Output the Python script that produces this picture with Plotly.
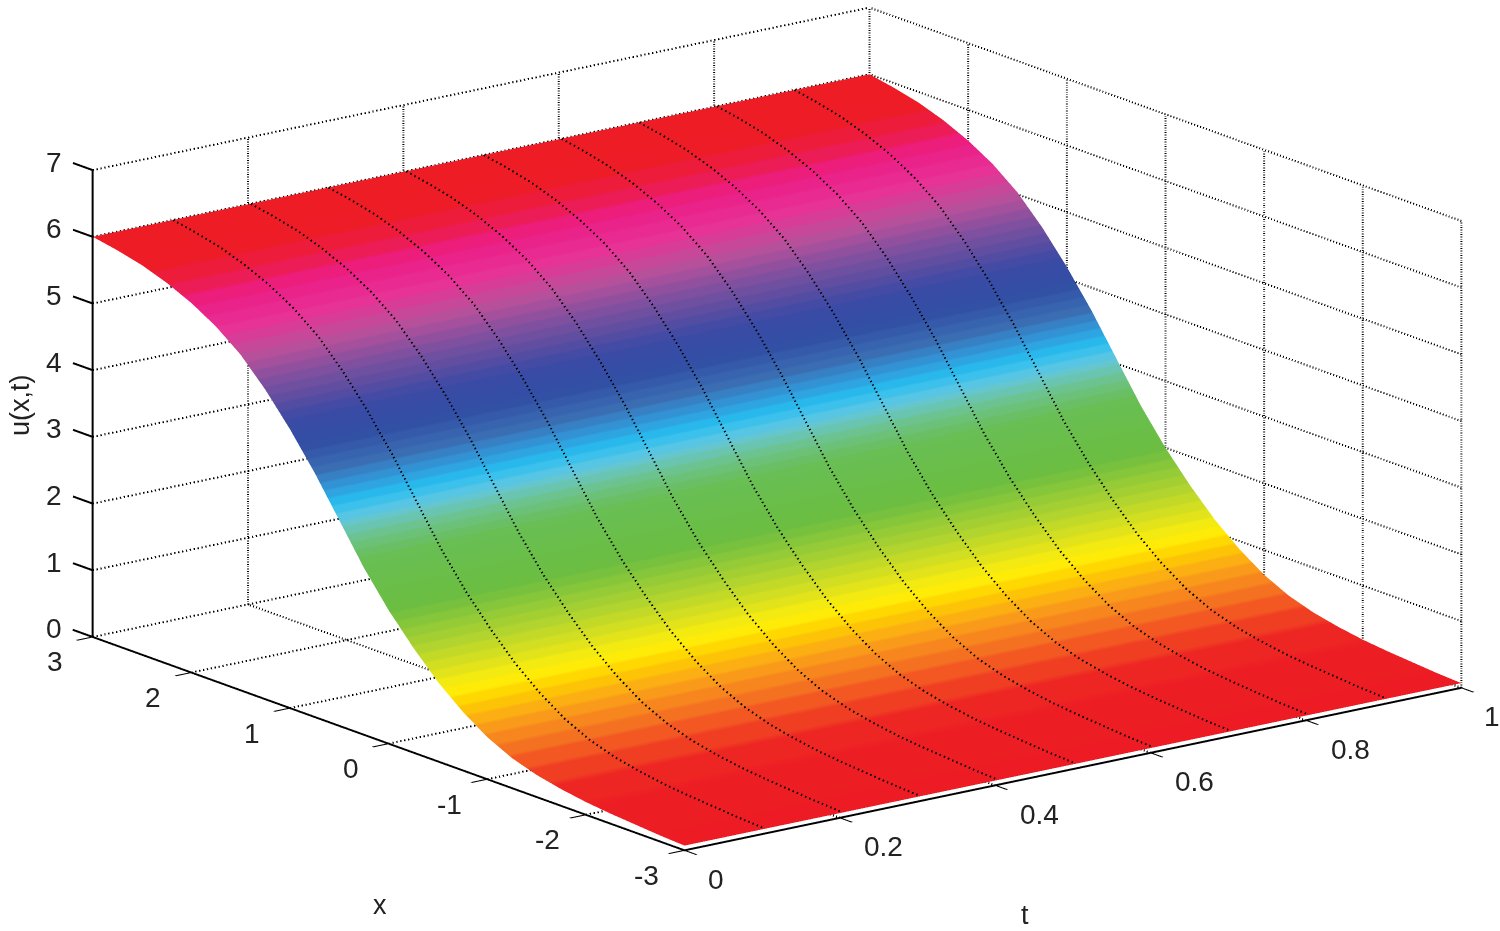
import plotly.graph_objects as go

# values
x_vals = [-3, -2.75, -2.5, -2.25, -2, -1.75, -1.5, -1.25, -1, -0.75, -0.5, -0.25, 0,
          0.25, 0.5, 0.75, 1, 1.25, 1.5, 1.75, 2, 2.25, 2.5, 2.75, 3]
u_vals = [0.07, 0.09, 0.12, 0.15, 0.19, 0.25, 0.33, 0.45, 0.63, 0.88, 1.19, 1.57, 2.0,
          2.5, 3.08, 3.66, 4.18, 4.64, 5.03, 5.32, 5.54, 5.71, 5.84, 5.93, 6.0]
t_vals = [0, 1]
t_lines = [0.1, 0.2, 0.3, 0.4, 0.5, 0.6, 0.7, 0.8, 0.9]
t_ticks = [0, 0.2, 0.4, 0.6, 0.8, 1]
t_labels = ["0", "0.2", "0.4", "0.6", "0.8", "1"]
x_ticks = [-3, -2, -1, 0, 1, 2, 3]
z_ticks = [0, 1, 2, 3, 4, 5, 6, 7]

# colour read at some heights of the surface
band_heights = [0, 0.2, 0.3, 0.5, 0.75, 0.95, 1.1, 1.3, 1.6, 2.0, 2.6, 2.85, 3.1, 3.3, 3.5, 3.7, 4.0, 4.3,
                4.7, 5.05, 5.3, 5.55, 5.7, 5.85, 6.0]
band_colors = [(237, 28, 36), (237, 30, 36), (240, 55, 35), (245, 110, 35), (250, 165, 25), (255, 210, 0),
               (255, 240, 10), (220, 225, 30), (170, 210, 50), (108, 190, 65), (105, 190, 85), (110, 195, 140),
               (100, 200, 225), (40, 190, 240), (50, 150, 215), (60, 110, 180), (50, 80, 165), (60, 75, 165),
               (120, 80, 160), (190, 80, 155), (232, 50, 150), (236, 30, 135), (237, 28, 75), (237, 28, 40),
               (237, 28, 36)]
n_bands = 64


def band_color(h):
    for i in range(len(band_heights) - 1):
        if h <= band_heights[i + 1]:
            f = (h - band_heights[i]) / (band_heights[i + 1] - band_heights[i])
            c = [band_colors[i][k] + f * (band_colors[i + 1][k] - band_colors[i][k]) for k in range(3)]
            return "rgb(%d,%d,%d)" % tuple(c)
    return "rgb(237,28,36)"


scale = []
for i in range(n_bands):
    col = band_color((i + 0.5) / n_bands * 6)
    scale.append([i / n_bands, col])
    scale.append([(i + 1) / n_bands, col])

fig = go.Figure()
fig.add_trace(go.Surface(
    x=t_vals,
    y=x_vals,
    z=[[u, u] for u in u_vals],
    colorscale=scale,
    cmin=0,
    cmax=6,
    showscale=False,
    hoverinfo="skip",
    lighting=dict(ambient=1, diffuse=0, specular=0, roughness=1, fresnel=0),
))

# dotted curves on the surface
for t in t_lines:
    fig.add_trace(go.Scatter3d(
        x=[t] * len(x_vals), y=x_vals, z=[u + 0.03 for u in u_vals],
        mode="lines", line=dict(color="black", width=4, dash="dot"),
        hoverinfo="skip", showlegend=False,
    ))


def grid_line(xs, ys, zs, dash="dot"):
    fig.add_trace(go.Scatter3d(
        x=xs, y=ys, z=zs, mode="lines",
        line=dict(color="black", width=4, dash=dash),
        hoverinfo="skip", showlegend=False,
    ))


# dotted grid on the back walls and the floor
for t in t_ticks:
    grid_line([t, t], [3, 3], [0, 7])
    grid_line([t, t], [-3, 3], [0, 0])
for x in x_ticks:
    grid_line([1, 1], [x, x], [0, 7])
    grid_line([0, 1], [x, x], [0, 0])
for z in z_ticks:
    grid_line([0, 1], [3, 3], [z, z])
    grid_line([1, 1], [-3, 3], [z, z])

# the z axis and its ticks point along x, which the scene axis cannot do by itself
grid_line([0, 0], [3, 3], [0, 7], dash="solid")
for z in z_ticks:
    grid_line([0, 0], [3, 3.2], [z, z], dash="solid")

axis_style = dict(
    showbackground=False, showgrid=False, zeroline=False, showspikes=False,
    showline=True, linecolor="black", linewidth=4,
    ticks="outside", ticklen=20, tickwidth=4, tickcolor="black",
    showticklabels=False, title=dict(text=""),
)
tick_font = dict(family="Liberation Sans", size=28, color="#222222")
title_font = dict(family="Liberation Sans", size=27, color="#222222")

# tick labels sit at the data position, shifted by pixels
labels = []
for z in z_ticks:
    labels.append(dict(x=0, y=3, z=z, text=str(z), xshift=-39, yshift=8))
for x in x_ticks:
    labels.append(dict(x=0, y=x, z=0, text=str(x), xshift=-38, yshift=-25))
for t, lab in zip(t_ticks, t_labels):
    shift = 44 if len(lab) > 1 else 31
    labels.append(dict(x=t, y=-3, z=0, text=lab, xshift=shift, yshift=-29))
for a in labels:
    a.update(showarrow=False, font=tick_font)


def paper_label(px, py, text, angle=0):
    return dict(x=px / 1500, y=1 - py / 931, xref="paper", yref="paper", text=text, textangle=angle,
                xanchor="center", yanchor="middle", showarrow=False, font=title_font)


# camera: view direction and zoom worked out from the corners of the box
eye_dir = (-0.5826, -0.7648, 0.2746)
right = (0.7955, -0.606, 0)
up_dir = (0.1664, 0.2184, 0.9616)
dist = 1.6
px_unit = 465
shift_right = (27 - 9.85) / px_unit
shift_up = (36.5 + 3.55) / px_unit
center = [-shift_right * right[i] - shift_up * up_dir[i] for i in range(3)]
eye = [center[i] + dist * eye_dir[i] for i in range(3)]

fig.update_layout(
    width=1500,
    height=931,
    margin=dict(l=0, r=0, t=0, b=0),
    paper_bgcolor="white",
    showlegend=False,
    annotations=[
        paper_label(380, 905, "x"),
        paper_label(1025, 915, "t"),
        paper_label(20, 405, "u(x,t)", angle=-90),
    ],
    scene=dict(
        xaxis=dict(axis_style, range=[0, 1], tickvals=t_ticks),
        yaxis=dict(axis_style, range=[-3, 3.2], tickvals=x_ticks),
        zaxis=dict(axis_style, range=[0, 7], tickvals=z_ticks, showline=False, ticks=""),
        aspectmode="manual",
        aspectratio=dict(x=2.098, y=2.168, z=1.043),
        annotations=labels,
        camera=dict(
            projection=dict(type="orthographic"),
            up=dict(x=0, y=0, z=1),
            center=dict(x=center[0], y=center[1], z=center[2]),
            eye=dict(x=eye[0], y=eye[1], z=eye[2]),
        ),
    ),
)

# the page margin would push the figure 8px off the window
fig.write_html("out.html", config=dict(displayModeBar=False), post_script="document.body.style.margin='0';")
